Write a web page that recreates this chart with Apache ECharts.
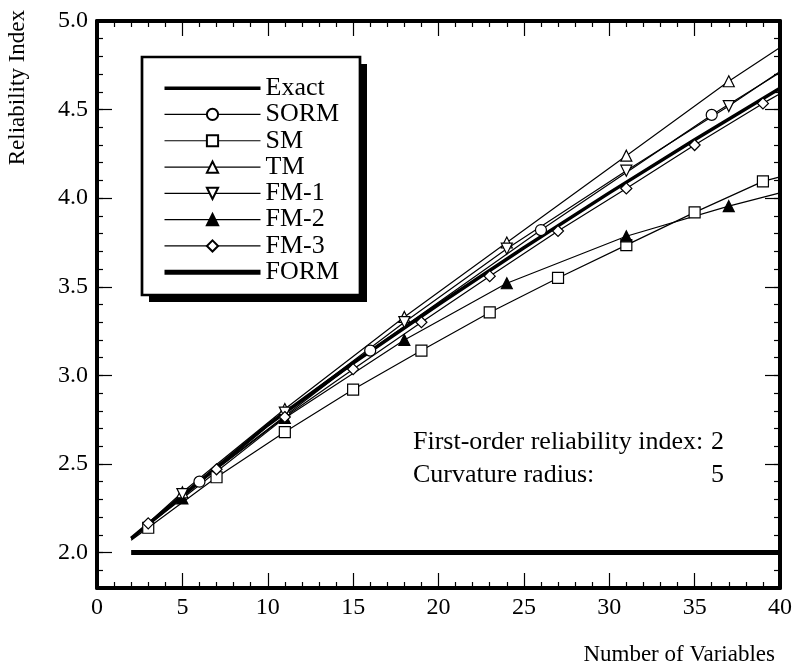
<!DOCTYPE html>
<html><head><meta charset="utf-8">
<script src="https://cdn.jsdelivr.net/npm/echarts@6/dist/echarts.min.js"></script>
<style>html,body{margin:0;padding:0;background:#fff}#c{width:795px;height:667px}</style>
</head><body><div id="c"></div>
<script>
// ---- data ----
const seriesNames = ['Exact', 'SORM', 'SM', 'TM', 'FM-1', 'FM-2', 'FM-3', 'FORM'];
const exactX = [2, 3, 5, 10, 15, 20, 25, 30, 35, 40];
const exactY = [2.08, 2.16, 2.32, 2.72, 3.07, 3.40, 3.72, 4.03, 4.33, 4.62];
const sormX = [2, 6, 16, 26, 36, 40];
const sormY = [2.08, 2.40, 3.14, 3.82, 4.47, 4.71];
const smX = [2, 3, 7, 11, 15, 19, 23, 27, 31, 35, 39, 40];
const smY = [2.07, 2.14, 2.425, 2.68, 2.92, 3.14, 3.355, 3.55, 3.735, 3.92, 4.095, 4.12];
const tmX = [2, 5, 11, 18, 24, 31, 37, 40];
const tmY = [2.08, 2.34, 2.81, 3.33, 3.75, 4.24, 4.66, 4.85];
const fm1X = [2, 5, 11, 18, 24, 31, 37, 40];
const fm1Y = [2.08, 2.33, 2.79, 3.30, 3.715, 4.155, 4.52, 4.715];
const fm2X = [2, 5, 11, 18, 24, 31, 37, 40];
const fm2Y = [2.08, 2.305, 2.76, 3.20, 3.52, 3.785, 3.955, 4.03];
const fm3X = [2, 3, 7, 11, 15, 19, 23, 27, 31, 35, 39, 40];
const fm3Y = [2.08, 2.165, 2.47, 2.765, 3.035, 3.30, 3.56, 3.815, 4.055, 4.30, 4.535, 4.59];
const formX = [2, 40];
const formY = [2.0, 2.0];
const yMajorTicks = [2.0, 2.5, 3.0, 3.5, 4.0, 4.5, 5.0];
const xAxisTitle = 'Number of Variables';
const yAxisTitle = 'Reliability Index';
const noteLabels = ['First-order reliability index:', 'Curvature radius:'];
const noteValues = ['2', '5'];

// ---- chart ----
const FONT = '"Liberation Serif", "Times New Roman", serif';
const chart = echarts.init(document.getElementById('c'), null, {renderer: 'canvas'});

function pts(xs, ys, markEnds) {
  return xs.map((x, i) => {
    const it = {value: [x, ys[i]]};
    if (!markEnds && (i === 0 || i === xs.length - 1)) it.symbol = 'none';
    return it;
  });
}
function markedSeries(name, xs, ys, symbol, fill, rotate) {
  return {
    name, type: 'line', data: pts(xs, ys, false),
    symbol, symbolSize: 11, symbolRotate: rotate || 0,
    showSymbol: true, showAllSymbol: true,
    lineStyle: {color: '#000', width: 1.2},
    itemStyle: {color: fill, borderColor: '#000', borderWidth: 1.2},
    emphasis: {disabled: true}, z: 3
  };
}
function plainSeries(name, xs, ys, width) {
  return {
    name, type: 'line', data: pts(xs, ys, true), symbol: 'none',
    lineStyle: {color: '#000', width: width, cap: 'butt'},
    itemStyle: {color: '#000'},
    emphasis: {disabled: true}, z: 2
  };
}

const tickStyle = {color: '#000', width: 1.2};
function xAx(pos, showLabel) {
  return {
    type: 'value', min: 0, max: 40, interval: 5, position: pos,
    axisLine: {show: true, onZero: false, lineStyle: {color: '#000', width: 4}},
    axisTick: {show: true, inside: true, length: 15, lineStyle: tickStyle},
    minorTick: {show: true, splitNumber: 5, length: 6, lineStyle: tickStyle},
    axisLabel: {show: showLabel, fontSize: 24, fontFamily: FONT, color: '#000', margin: 8},
    splitLine: {show: false}
  };
}
function yMajor(pos, showLabel) {
  return {
    type: 'value', min: 1.8, max: 5.0, position: pos,
    axisLine: {show: true, onZero: false, lineStyle: {color: '#000', width: 4}},
    axisTick: {show: true, inside: true, length: 15, lineStyle: tickStyle, customValues: yMajorTicks},
    axisLabel: {show: showLabel, customValues: yMajorTicks, formatter: v => v.toFixed(1),
      fontSize: 24, fontFamily: FONT, color: '#000', margin: 9},
    splitLine: {show: false}
  };
}
function yMinor(pos) {
  return {
    type: 'value', min: 1.8, max: 5.0, interval: 0.1, position: pos,
    axisLine: {show: false, onZero: false},
    axisTick: {show: true, inside: true, length: 6, lineStyle: tickStyle},
    axisLabel: {show: false},
    splitLine: {show: false}
  };
}

const xBottom = xAx('bottom', true);
xBottom.name = xAxisTitle;
xBottom.nameLocation = 'end';
xBottom.nameGap = -5;
xBottom.nameTextStyle = {fontSize: 23, fontFamily: FONT, color: '#000', align: 'right', verticalAlign: 'top', padding: [55, 0, 0, 0]};

const yLeft = yMajor('left', true);
yLeft.name = yAxisTitle;
yLeft.nameLocation = 'end';
yLeft.nameRotate = 90;
yLeft.nameGap = 11;
yLeft.nameTextStyle = {fontSize: 23, fontFamily: FONT, color: '#000', align: 'right', verticalAlign: 'bottom', padding: [0, 0, 68, 0]};

const legendWidths = {'Exact': 3.5, 'FORM': 5};
const legendData = seriesNames.map(n => {
  const d = {name: n, lineStyle: {width: legendWidths[n] || 1.2, color: '#000'}};
  if (legendWidths[n]) d.itemStyle = {opacity: 0};
  return d;
});

const option = {
  animation: false,
  backgroundColor: '#fff',
  grid: {left: 97, right: 15, top: 21, bottom: 79},
  xAxis: [xBottom, xAx('top', false)],
  yAxis: [yLeft, yMajor('right', false), yMinor('left'), yMinor('right')],
  legend: {
    orient: 'vertical', left: 162, top: 75, z: 10,
    data: legendData, selectedMode: false,
    itemWidth: 96, itemHeight: 14, itemGap: 0,
    padding: 0,
    textStyle: {fontFamily: FONT, fontSize: 26, color: '#000', lineHeight: 26.3}
  },
  graphic: [
    {type: 'rect', z: 8, shape: {x: 149, y: 64, width: 218, height: 238}, style: {fill: '#000'}},
    {type: 'rect', z: 9, shape: {x: 142, y: 57, width: 218, height: 238}, style: {fill: '#fff', stroke: '#000', lineWidth: 2.7}},
    {type: 'text', x: 413, y: 442, style: {text: noteLabels[0], fontSize: 26, fontFamily: FONT, fill: '#000', align: 'left', verticalAlign: 'middle'}},
    {type: 'text', x: 724, y: 442, style: {text: noteValues[0], fontSize: 26, fontFamily: FONT, fill: '#000', align: 'right', verticalAlign: 'middle'}},
    {type: 'text', x: 413, y: 475, style: {text: noteLabels[1], fontSize: 26, fontFamily: FONT, fill: '#000', align: 'left', verticalAlign: 'middle'}},
    {type: 'text', x: 724, y: 475, style: {text: noteValues[1], fontSize: 26, fontFamily: FONT, fill: '#000', align: 'right', verticalAlign: 'middle'}}
  ],
  series: [
    plainSeries('FORM', formX, formY, 5),
    markedSeries('SM', smX, smY, 'rect', '#fff'),
    markedSeries('FM-2', fm2X, fm2Y, 'triangle', '#000'),
    markedSeries('TM', tmX, tmY, 'triangle', '#fff'),
    markedSeries('FM-1', fm1X, fm1Y, 'triangle', '#fff', 180),
    plainSeries('Exact', exactX, exactY, 3.5),
    markedSeries('FM-3', fm3X, fm3Y, 'diamond', '#fff'),
    markedSeries('SORM', sormX, sormY, 'circle', '#fff')
  ]
};
chart.setOption(option);
</script>
</body></html>
